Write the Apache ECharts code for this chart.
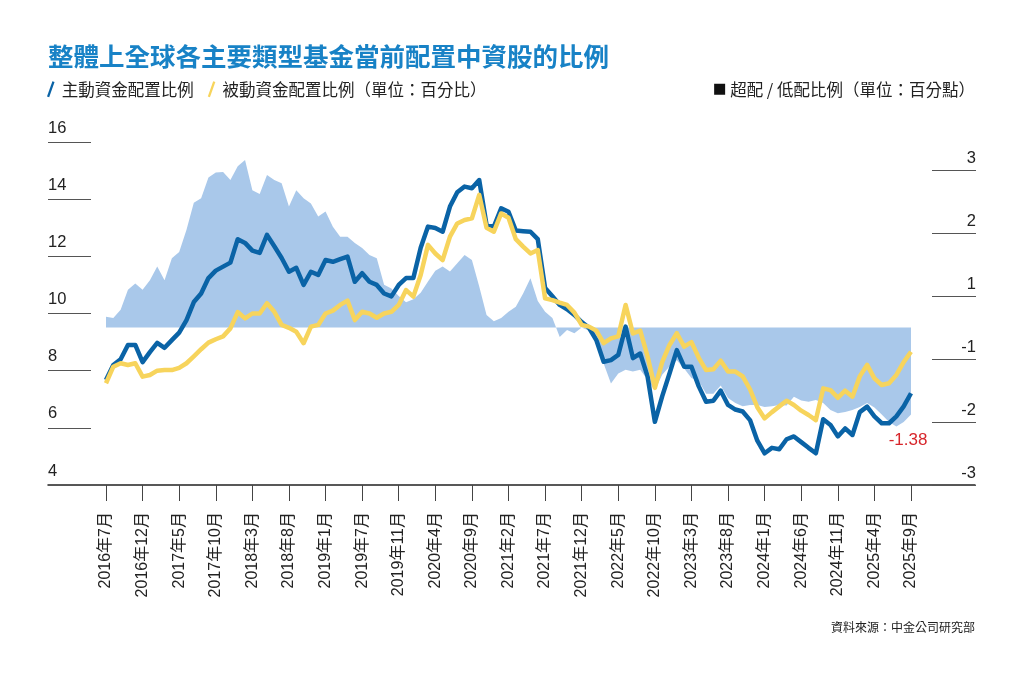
<!DOCTYPE html>
<html>
<head>
<meta charset="utf-8">
<title>整體上全球各主要類型基金當前配置中資股的比例</title>
<script src="https://cdn.jsdelivr.net/npm/echarts@6/dist/echarts.min.js"></script>
<style>
html, body { margin: 0; padding: 0; background: #fff; }
#chart { width: 1024px; height: 683px; }
</style>
</head>
<body>
<div id="chart"></div>
<script>
// 月份: 2016年7月 - 2025年9月
var months = [];
for (var y = 2016, m = 7; y < 2025 || (y === 2025 && m <= 9); m++) {
	if (m > 12) { m = 1; y++; }
	months.push(y + '年' + m + '月');
}

// 橫軸上印出來的刻度文字 (每5個月一個)
var tickLabels = ['2016年7月', '2016年12月', '2017年5月', '2017年10月', '2018年3月', '2018年8月',
	'2019年1月', '2019年7月', '2019年11月', '2020年4月', '2020年9月', '2021年2月', '2021年7月',
	'2021年12月', '2022年5月', '2022年10月', '2023年3月', '2023年8月', '2024年1月', '2024年6月',
	'2024年11月', '2025年4月', '2025年9月'];

// 右軸刻度文字 (由下而上)
var rightLabels = ['-3', '-2', '-1', '1', '2', '3'];

// 主動資金配置比例 (%)
var active = [7.67, 8.2, 8.4, 8.9, 8.9, 8.3, 8.65, 8.97, 8.8, 9.07,
	9.33, 9.77, 10.4, 10.7, 11.24, 11.5, 11.64, 11.78, 12.6, 12.47,
	12.2, 12.12, 12.75, 12.35, 11.94, 11.46, 11.6, 11.0, 11.46, 11.35,
	11.87, 11.81, 11.9, 11.99, 11.11, 11.41, 11.11, 11.0, 10.7, 10.6,
	11.0, 11.24, 11.24, 12.3, 13.04, 12.99, 12.86, 13.74, 14.24, 14.44,
	14.38, 14.67, 13.1, 13.04, 13.68, 13.56, 12.9, 12.88, 12.86, 12.6,
	10.89, 10.6, 10.3, 10.15, 9.95, 9.7, 9.5, 9.07, 8.31, 8.37,
	8.55, 9.54, 8.44, 8.6, 7.8, 6.21, 7.1, 7.9, 8.72, 8.14,
	8.14, 7.45, 6.91, 6.95, 7.3, 6.8, 6.64, 6.57, 6.27, 5.55,
	5.11, 5.3, 5.25, 5.6, 5.7, 5.5, 5.3, 5.11, 6.3, 6.1,
	5.7, 5.98, 5.75, 6.55, 6.74, 6.4, 6.16, 6.16, 6.4, 6.75, 7.21];

// 被動資金配置比例 (%)
var passive = [7.56, 8.14, 8.26, 8.2, 8.26, 7.79, 7.85, 8.0, 8.02, 8.02,
	8.1, 8.26, 8.5, 8.75, 8.98, 9.1, 9.2, 9.48, 10.05, 9.83,
	10.0, 10.0, 10.36, 10.06, 9.6, 9.5, 9.36, 8.96, 9.54, 9.6,
	10.0, 10.1, 10.3, 10.45, 9.77, 10.06, 10.0, 9.85, 10.0, 10.06,
	10.3, 10.82, 10.59, 11.35, 12.4, 12.1, 11.87, 12.69, 13.15, 13.27,
	13.33, 14.15, 13.0, 12.86, 13.5, 13.35, 12.6, 12.34, 12.1, 12.22,
	10.53, 10.47, 10.38, 10.3, 10.03, 9.6, 9.54, 9.4, 8.96, 9.13,
	9.2, 10.3, 9.3, 9.4, 8.5, 7.4, 8.3, 8.9, 9.31, 8.84,
	9.0, 8.45, 8.02, 8.05, 8.35, 7.97, 7.97, 7.8, 7.35, 6.72,
	6.33, 6.55, 6.75, 6.95, 6.8, 6.6, 6.45, 6.27, 7.38, 7.32,
	7.05, 7.3, 7.09, 7.8, 8.2, 7.73, 7.5, 7.56, 7.85, 8.3, 8.66];

// 超配 / 低配比例 (百分點)
var diff = [0.17, 0.15, 0.28, 0.6, 0.7, 0.6, 0.75, 0.97, 0.75, 1.1,
	1.2, 1.55, 1.98, 2.05, 2.38, 2.46, 2.47, 2.34, 2.56, 2.66,
	2.18, 2.12, 2.42, 2.34, 2.29, 1.92, 2.18, 2.05, 1.97, 1.76,
	1.84, 1.6, 1.44, 1.44, 1.34, 1.26, 1.15, 1.1, 0.68, 0.62,
	0.5, 0.4, 0.45, 0.55, 0.73, 0.9, 0.97, 0.89, 1.02, 1.15,
	1.07, 0.65, 0.2, 0.1, 0.15, 0.25, 0.33, 0.54, 0.78, 0.42,
	0.25, 0.15, -0.15, -0.04, -0.09, 0.0, -0.05, -0.2, -0.57, -0.89,
	-0.73, -0.67, -0.7, -0.67, -0.83, -1.0, -0.75, -0.62, -0.52, -0.65,
	-0.8, -0.85, -1.05, -1.05, -0.92, -1.12, -1.2, -1.25, -1.23, -1.23,
	-1.26, -1.25, -1.23, -1.24, -1.1, -1.16, -1.18, -1.15, -1.2, -1.31,
	-1.36, -1.34, -1.31, -1.26, -1.2, -1.27, -1.38, -1.5, -1.57, -1.5, -1.38];

var nameActive = '主動資金配置比例';
var namePassive = '被動資金配置比例（單位：百分比）';
var nameDiff = '超配 / 低配比例（單位：百分點）';

var numFont = "'Liberation Sans', 'Noto Sans CJK TC', sans-serif";
var cjkFont = "'Noto Sans CJK TC', sans-serif";
var stroke = 'path://M4,14 L9,0 L11,0.8 L6,14.8 Z';
var last = diff.length - 1;

var myChart = echarts.init(document.getElementById('chart'));

var option = {
	animation: false,
	backgroundColor: '#fff',
	title: [
		{
			text: '整體上全球各主要類型基金當前配置中資股的比例',
			left: 48, top: 44, padding: 0,
			textStyle: { fontFamily: cjkFont, fontSize: 25.5, fontWeight: 'bold', color: '#1882c6' }
		},
		{
			text: '資料來源：中金公司研究部',
			right: 49, top: 621, padding: 0,
			textStyle: { fontFamily: cjkFont, fontSize: 12, fontWeight: 'normal', color: '#222' }
		}
	],
	legend: [
		{
			left: 47, top: 81, padding: 0,
			icon: stroke,
			itemWidth: 12, itemHeight: 16, itemGap: 14,
			textStyle: { fontFamily: cjkFont, fontSize: 16.5, color: '#222' },
			data: [nameActive, namePassive]
		},
		{
			right: 49, top: 81, padding: 0,
			itemWidth: 11, itemHeight: 11, itemGap: 0,
			textStyle: { fontFamily: cjkFont, fontSize: 16.5, color: '#222' },
			data: [{ name: nameDiff, icon: 'rect', itemStyle: { color: '#111' } }]
		}
	],
	grid: [
		{ left: 106, right: 113, top: 142, bottom: 198 },   // 左軸: 百分比
		{ left: 106, right: 113, top: 170, bottom: 198 },   // 右軸: 百分點
		{ left: 48, right: 49, top: 484, bottom: 198 }      // 底線
	],
	xAxis: [
		{
			type: 'category', gridIndex: 0, data: months, boundaryGap: false,
			axisLine: { show: false },
			axisTick: { show: true, interval: 4, length: 16, lineStyle: { color: '#444', width: 1 } },
			axisLabel: {
				interval: 4, rotate: 90, margin: 27,
				fontFamily: numFont, fontSize: 16, color: '#222',
				formatter: function (v, i) { return tickLabels[Math.round(i / 5)]; }
			},
			splitLine: { show: false }
		},
		{
			type: 'category', gridIndex: 1, data: months, boundaryGap: false, show: false
		},
		{
			type: 'value', gridIndex: 2, min: 0, max: 1,
			axisLine: { show: true, lineStyle: { color: '#222', width: 1.5 } },
			axisTick: { show: false }, axisLabel: { show: false }, splitLine: { show: false }
		}
	],
	yAxis: [
		{
			type: 'value', gridIndex: 0, min: 4, max: 16, interval: 2,
			position: 'left', offset: 15,
			axisLine: { show: false },
			axisTick: { show: true, length: 43, lineStyle: { color: '#555', width: 1 } },
			axisLabel: {
				align: 'left', margin: 43, verticalAlign: 'bottom', lineHeight: 28,
				fontFamily: numFont, fontSize: 16.5, color: '#222'
			},
			splitLine: { show: false }
		},
		{
			type: 'value', gridIndex: 1, min: -2.5, max: 2.5, interval: 1,
			position: 'right', offset: 21,
			axisLine: { show: false },
			axisTick: { show: true, length: 44, lineStyle: { color: '#555', width: 1 } },
			axisLabel: {
				align: 'right', margin: 44, verticalAlign: 'bottom', lineHeight: 24,
				fontFamily: numFont, fontSize: 16.5, color: '#222',
				formatter: function (v, i) { return rightLabels[i]; }
			},
			splitLine: { show: false }
		},
		{ type: 'value', gridIndex: 2, show: false }
	],
	series: [
		{
			name: nameDiff, type: 'line', xAxisIndex: 1, yAxisIndex: 1,
			data: diff, showSymbol: false, symbol: 'none', clip: false,
			lineStyle: { width: 0 },
			itemStyle: { color: '#a9c8ea' },
			areaStyle: { color: '#a9c8ea', opacity: 1, origin: 0 },
			markPoint: {
				symbol: 'circle', symbolSize: 1,
				itemStyle: { color: 'rgba(0,0,0,0)' },
				label: {
					show: true, position: 'bottom', distance: 17, offset: [-3, 0],
					fontFamily: numFont, fontSize: 17, color: '#d7262b',
					formatter: function (p) { return p.value.toFixed(2); }
				},
				data: [{ coord: [last, diff[last]], value: diff[last] }]
			}
		},
		{
			name: nameActive, type: 'line', xAxisIndex: 0, yAxisIndex: 0,
			data: active, showSymbol: false, symbol: 'none',
			lineStyle: { color: '#0a63a6', width: 4.5, join: 'round' },
			itemStyle: { color: '#0a63a6' }
		},
		{
			name: namePassive, type: 'line', xAxisIndex: 0, yAxisIndex: 0,
			data: passive, showSymbol: false, symbol: 'none',
			lineStyle: { color: '#f7d45c', width: 4.5, join: 'round' },
			itemStyle: { color: '#f7d45c' }
		}
	]
};

myChart.setOption(option);
</script>
</body>
</html>
